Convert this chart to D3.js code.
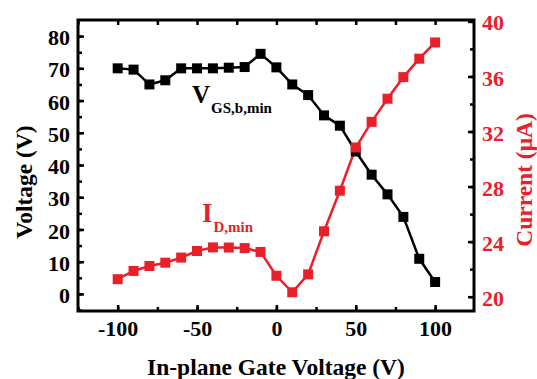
<!DOCTYPE html>
<html>
<head>
<meta charset="utf-8">
<script src="https://cdn.jsdelivr.net/npm/d3@7"></script>
<style>
  body { margin: 0; background: #fff; }
  svg text { font-family: "Liberation Serif", "Times New Roman", serif; font-weight: bold; }
</style>
</head>
<body>
<svg id="chart"></svg>
<script>
const gateVoltage = [-100, -90, -80, -70, -60, -50, -40, -30, -20, -10, 0, 10, 20, 30, 40, 50, 60, 70, 80, 90, 100];
const vgsMin = [70, 69.6, 65, 66.3, 70, 70, 70, 70.2, 70.4, 74.5, 70.3, 65, 61.7, 55.4, 52.2, 44.2, 37, 30.9, 23.9, 10.9, 3.7];
const idMin = [21.27, 21.87, 22.23, 22.47, 22.84, 23.32, 23.58, 23.57, 23.53, 23.25, 21.52, 20.32, 21.62, 24.75, 27.7, 30.84, 32.7, 34.38, 35.95, 37.29, 38.47];
const xTicks = [-100, -50, 0, 50, 100];
const leftTicks = [0, 10, 20, 30, 40, 50, 60, 70, 80];
const rightTicks = [20, 24, 28, 32, 36, 40];

const width = 537;
const height = 379;
const margin = { top: 20, right: 63, bottom: 68, left: 78 };
const red = "#e8202a";
const serif = "'Liberation Serif', 'Times New Roman', serif";

const svg = d3.select("#chart").attr("width", width).attr("height", height);

const x = d3.scaleLinear().domain([-125, 124.5]).range([margin.left, width - margin.right]);
const yL = d3.scaleLinear().domain([-5.3, 85]).range([height - margin.bottom, margin.top]);
const yR = d3.scaleLinear().domain([18.96, 40.1]).range([height - margin.bottom, margin.top]);

const x0 = margin.left, x1 = width - margin.right;
const y0 = height - margin.bottom, y1 = margin.top;

const fmt = (d) => String(d); // plain hyphen for negatives

// minor ticks
function minor(scale, step) {
  const [a, b] = scale.domain();
  return d3.range(Math.ceil(a / step) * step, b, step);
}

function styleLabels(g, color) {
  g.attr("font-family", serif);
  g.selectAll("text")
    .attr("font-size", 22)
    .attr("font-weight", "bold")
    .attr("fill", color);
}

const bottomAxis = svg.append("g").attr("transform", `translate(0,${y0})`);
bottomAxis.call(d3.axisBottom(x).tickValues(minor(x, 25)).tickSize(-4).tickFormat("").tickSizeOuter(0));
bottomAxis.call((g) => g.selectAll(".tick line").attr("stroke-width", 2.5));
bottomAxis.append("g").call(d3.axisBottom(x).tickValues(xTicks).tickSize(-6).tickPadding(9).tickFormat(fmt).tickSizeOuter(0))
  .call((g) => g.select(".domain").remove())
  .call((g) => g.selectAll(".tick line").attr("stroke-width", 2.5))
  .call((g) => styleLabels(g, "#000"));

const topAxis = svg.append("g").attr("transform", `translate(0,${y1})`);
topAxis.call(d3.axisTop(x).tickValues(minor(x, 25)).tickSize(-5).tickFormat("").tickSizeOuter(0))
  .call((g) => g.selectAll(".tick line").attr("stroke-width", 2.5));

const leftAxis = svg.append("g").attr("transform", `translate(${x0},0)`);
leftAxis.call(d3.axisLeft(yL).tickValues(minor(yL, 5)).tickSize(-4).tickFormat("").tickSizeOuter(0))
  .call((g) => g.selectAll(".tick line").attr("stroke-width", 2.5));
leftAxis.append("g").call(d3.axisLeft(yL).tickValues(leftTicks).tickSize(-6).tickPadding(8).tickFormat(fmt))
  .call((g) => g.select(".domain").remove())
  .call((g) => g.selectAll(".tick line").attr("stroke-width", 2.5))
  .call((g) => styleLabels(g, "#000"))
  .call((g) => g.selectAll("text").attr("dy", "0.39em"));

const rightAxis = svg.append("g").attr("transform", `translate(${x1},0)`);
rightAxis.call(d3.axisRight(yR).tickValues(minor(yR, 2)).tickSize(-4).tickFormat("").tickSizeOuter(0))
  .call((g) => g.selectAll(".tick line").attr("stroke-width", 2.5));
rightAxis.append("g").call(d3.axisRight(yR).tickValues(rightTicks).tickSize(-6).tickPadding(8).tickFormat(fmt))
  .call((g) => g.select(".domain").remove())
  .call((g) => g.selectAll(".tick line").attr("stroke-width", 2.5))
  .call((g) => styleLabels(g, red))
  .call((g) => g.selectAll("text").attr("dy", "0.39em"));

// frame
svg.append("rect")
  .attr("x", x0).attr("y", y1).attr("width", x1 - x0).attr("height", y0 - y1)
  .attr("fill", "none").attr("stroke", "#000").attr("stroke-width", 3);

svg.selectAll(".domain").attr("stroke", "none");

// series
const blackData = gateVoltage.map((g, i) => [g, vgsMin[i]]);
const redData = gateVoltage.map((g, i) => [g, idMin[i]]);

svg.append("path")
  .datum(redData)
  .attr("fill", "none").attr("stroke", red).attr("stroke-width", 2.5)
  .attr("d", d3.line().x((d) => x(d[0])).y((d) => yR(d[1])));

svg.append("path")
  .datum(blackData)
  .attr("fill", "none").attr("stroke", "#000").attr("stroke-width", 2.5)
  .attr("d", d3.line().x((d) => x(d[0])).y((d) => yL(d[1])));

const s = 10;
svg.append("g").selectAll("rect").data(blackData).enter().append("rect")
  .attr("x", (d) => x(d[0]) - s / 2).attr("y", (d) => yL(d[1]) - s / 2)
  .attr("width", s).attr("height", s).attr("fill", "#000");

svg.append("g").selectAll("rect").data(redData).enter().append("rect")
  .attr("x", (d) => x(d[0]) - s / 2).attr("y", (d) => yR(d[1]) - s / 2)
  .attr("width", s).attr("height", s).attr("fill", red);

// annotations
const vLabel = svg.append("text").attr("x", 192).attr("y", 103).attr("fill", "#000");
vLabel.append("tspan").attr("font-size", 25).text("V");
vLabel.append("tspan").attr("font-size", 15).attr("dx", 1).attr("dy", 10).text("GS,b,min");

const iLabel = svg.append("text").attr("x", 202).attr("y", 222).attr("fill", red);
iLabel.append("tspan").attr("font-size", 27).text("I");
iLabel.append("tspan").attr("font-size", 15).attr("dx", 1).attr("dy", 10).text("D,min");

// axis titles
svg.append("text")
  .attr("transform", `translate(32,182) rotate(-90)`)
  .attr("text-anchor", "middle").attr("font-size", 23.5).text("Voltage (V)");

svg.append("text")
  .attr("transform", `translate(532,180) rotate(-90)`)
  .attr("text-anchor", "middle").attr("font-size", 23.5).attr("fill", red).text("Current (\u03bcA)");

svg.append("text")
  .attr("x", (x0 + x1) / 2).attr("y", 375)
  .attr("text-anchor", "middle").attr("font-size", 23.5).text("In-plane Gate Voltage (V)");
</script>
</body>
</html>
